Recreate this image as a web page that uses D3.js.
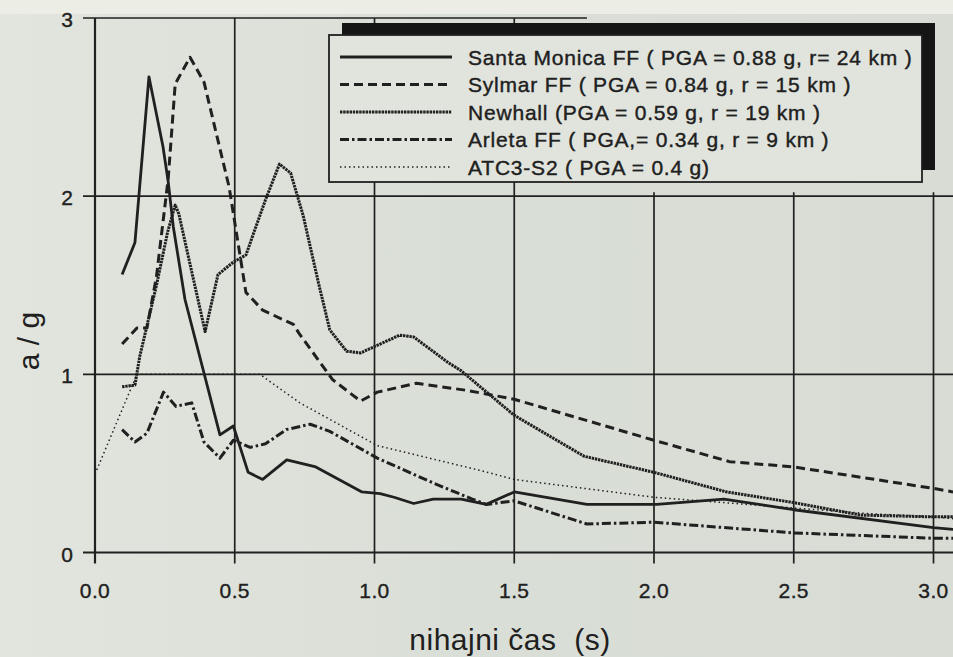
<!DOCTYPE html>
<html>
<head>
<meta charset="utf-8">
<script src="https://cdn.jsdelivr.net/npm/d3@7/dist/d3.min.js"></script>
<style>
  html, body { margin: 0; padding: 0; background: #dde1da; }
  svg { display: block; font-family: "Liberation Sans", Arial, Helvetica, sans-serif; }
</style>
</head>
<body>
<div id="chart"></div>
<script>
// Chart data: [period (s), a/g]
var xTicks = [0.0, 0.5, 1.0, 1.5, 2.0, 2.5, 3.0];
var yTicks = [0, 1, 2, 3];

var santaMonica = [
  [0.097, 1.56], [0.143, 1.74], [0.193, 2.67], [0.243, 2.28], [0.262, 2.08],
  [0.28, 1.83], [0.322, 1.42], [0.447, 0.66], [0.495, 0.71], [0.548, 0.45],
  [0.6, 0.41], [0.686, 0.52], [0.79, 0.48], [0.955, 0.34], [1.02, 0.33],
  [1.07, 0.31], [1.14, 0.275], [1.21, 0.30], [1.31, 0.30], [1.4, 0.27],
  [1.5, 0.34], [1.76, 0.27], [2.01, 0.27], [2.25, 0.30], [2.5, 0.24],
  [3.0, 0.14], [3.07, 0.13]
];

var sylmar = [
  [0.097, 1.17], [0.15, 1.26], [0.186, 1.26], [0.22, 1.55], [0.262, 2.1],
  [0.287, 2.63], [0.34, 2.78], [0.39, 2.64], [0.48, 2.05], [0.54, 1.46],
  [0.6, 1.36], [0.71, 1.28], [0.73, 1.23], [0.85, 0.97], [0.95, 0.85],
  [1.01, 0.9], [1.15, 0.95], [1.33, 0.91], [1.5, 0.86], [2.0, 0.63],
  [2.27, 0.51], [2.5, 0.48], [3.0, 0.36], [3.07, 0.34]
];

var newhall = [
  [0.097, 0.93], [0.143, 0.94], [0.16, 1.1], [0.22, 1.5], [0.26, 1.8],
  [0.287, 1.95], [0.3, 1.9], [0.394, 1.24], [0.44, 1.56], [0.495, 1.63],
  [0.54, 1.67], [0.61, 1.98], [0.66, 2.18], [0.70, 2.13], [0.745, 1.89],
  [0.80, 1.51], [0.84, 1.25], [0.90, 1.13], [0.95, 1.12], [1.09, 1.22],
  [1.14, 1.21], [1.26, 1.07], [1.31, 1.02], [1.5, 0.77], [1.75, 0.54],
  [2.0, 0.45], [2.26, 0.34], [2.5, 0.28], [2.74, 0.21], [3.0, 0.2], [3.07, 0.2]
];

var arleta = [
  [0.097, 0.69], [0.143, 0.62], [0.186, 0.67], [0.245, 0.9], [0.29, 0.82],
  [0.346, 0.84], [0.39, 0.62], [0.447, 0.53], [0.495, 0.63], [0.555, 0.59],
  [0.61, 0.61], [0.685, 0.69], [0.77, 0.72], [0.84, 0.68], [1.01, 0.53],
  [1.21, 0.39], [1.35, 0.30], [1.40, 0.27], [1.5, 0.29], [1.76, 0.16],
  [2.0, 0.17], [2.5, 0.11], [3.0, 0.08], [3.07, 0.08]
];

var atc3 = [
  [0.0, 0.44], [0.15, 1.0], [0.59, 1.0], [0.733, 0.84], [1.01, 0.6],
  [1.38, 0.46], [1.5, 0.41], [2.0, 0.31], [2.25, 0.28], [2.5, 0.25],
  [2.75, 0.22], [3.0, 0.2], [3.07, 0.19]
];

var legendLabels = [
  'Santa Monica FF ( PGA = 0.88 g, r= 24 km )',
  'Sylmar FF ( PGA = 0.84 g, r = 15 km )',
  'Newhall (PGA = 0.59 g, r = 19 km )',
  'Arleta FF ( PGA,= 0.34 g, r = 9 km )',
  'ATC3-S2 ( PGA = 0.4 g)'
];

!(function (global) {

  global.APP = global.APP || {};

  var W = 953, H = 657,
      ink = '#202020',
      paper = '#e1e4dd';

  var x = d3.scaleLinear().domain([0, 3]).range([95, 933.5]),
      y = d3.scaleLinear().domain([0, 3]).range([552.5, 18]);

  // series drawn in legend order, line styles kept apart from the data
  var series = [
    { values: santaMonica, width: 2.8, dash: null },
    { values: sylmar, width: 3, dash: '9,5' },
    { values: newhall, width: 3, dash: '2.4,0.8' },
    { values: arleta, width: 3, dash: '9,3,2.5,3' },
    { values: atc3, width: 1.5, dash: '1.5,3' }
  ];

  var svg = d3.select('#chart')
    .append('svg')
    .attr('width', W)
    .attr('height', H);

  // scanned paper background
  var grad = svg.append('defs').append('linearGradient')
    .attr('id', 'paper')
    .attr('x1', 0).attr('y1', 0).attr('x2', 1).attr('y2', 0);
  grad.append('stop').attr('offset', '0').attr('stop-color', '#e2e5de');
  grad.append('stop').attr('offset', '0.5').attr('stop-color', '#d9ded7');
  grad.append('stop').attr('offset', '1').attr('stop-color', '#d8dcd5');

  svg.append('rect')
    .attr('width', W).attr('height', H)
    .attr('fill', 'url(#paper)');
  svg.append('rect')
    .attr('width', W).attr('height', 14)
    .attr('fill', '#eceee5');

  var grid = svg.append('g').attr('stroke', ink).attr('fill', 'none');
  var topEnd = 1.76;

  // horizontal grid lines, the top one stops short as on the original sheet
  grid.selectAll('.hgrid')
    .data(yTicks)
    .enter().append('line')
    .attr('class', 'hgrid')
    .attr('x1', x(0) - 12)
    .attr('x2', function (d) { return d === 3 ? x(topEnd) : W; })
    .attr('y1', function (d) { return y(d); })
    .attr('y2', function (d) { return y(d); })
    .attr('stroke-width', function (d) { return d === 0 ? 2.2 : 1.7; });

  grid.selectAll('.vgrid')
    .data(xTicks)
    .enter().append('line')
    .attr('class', 'vgrid')
    .attr('x1', function (d) { return x(d); })
    .attr('x2', function (d) { return x(d); })
    .attr('y1', function (d) { return d > topEnd ? y(2) - 4 : y(3); })
    .attr('y2', y(0) + 11)
    .attr('stroke-width', function (d) { return d === 0 ? 2.2 : 1.7; });

  // tick labels
  svg.append('g').selectAll('text')
    .data(yTicks)
    .enter().append('text')
    .attr('x', 73)
    .attr('y', function (d) { return y(d) + 9; })
    .attr('text-anchor', 'end')
    .attr('font-size', 21)
    .attr('fill', ink)
    .attr('stroke', ink)
    .attr('stroke-width', 0.35)
    .text(function (d) { return d; });

  svg.append('g').selectAll('text')
    .data(xTicks)
    .enter().append('text')
    .attr('x', function (d) { return x(d); })
    .attr('y', 598)
    .attr('text-anchor', 'middle')
    .attr('font-size', 21)
    .attr('letter-spacing', 0.4)
    .attr('fill', ink)
    .attr('stroke', ink)
    .attr('stroke-width', 0.35)
    .text(function (d) { return d.toFixed(1); });

  // axis titles
  svg.append('text')
    .attr('x', 510)
    .attr('y', 650)
    .attr('text-anchor', 'middle')
    .attr('font-size', 30)
    .attr('letter-spacing', 0.5)
    .attr('fill', ink)
    .attr('xml:space', 'preserve')
    .text('nihajni čas  (s)');

  svg.append('text')
    .attr('transform', 'translate(39,341) rotate(-90)')
    .attr('text-anchor', 'middle')
    .attr('font-size', 30)
    .attr('fill', ink)
    .text('a / g');

  // curves
  var line = d3.line()
    .x(function (d) { return x(d[0]); })
    .y(function (d) { return y(d[1]); });

  svg.append('g').selectAll('path')
    .data(series.slice().reverse())
    .enter().append('path')
    .attr('d', function (s) { return line(s.values); })
    .attr('fill', 'none')
    .attr('stroke', ink)
    .attr('stroke-width', function (s) { return s.width; })
    .attr('stroke-dasharray', function (s) { return s.dash; })
    .attr('stroke-linejoin', 'round');

  // legend box with its black offset shadow
  var lg = svg.append('g');
  var box = { x: 329, y: 35, w: 593, h: 147 };

  lg.append('rect')
    .attr('x', box.x + 13).attr('y', box.y - 12)
    .attr('width', box.w).attr('height', box.h)
    .attr('fill', '#151515');
  lg.append('rect')
    .attr('x', box.x).attr('y', box.y)
    .attr('width', box.w).attr('height', box.h)
    .attr('fill', paper)
    .attr('stroke', ink)
    .attr('stroke-width', 1.8);

  var rows = lg.selectAll('.row')
    .data(series)
    .enter().append('g')
    .attr('class', 'row')
    .attr('transform', function (s, i) { return 'translate(0,' + (57 + i * 27.5) + ')'; });

  rows.append('line')
    .attr('x1', 340).attr('x2', 452)
    .attr('stroke', ink)
    .attr('stroke-width', function (s) { return s.width; })
    .attr('stroke-dasharray', function (s) { return s.dash; });

  rows.append('text')
    .attr('x', 468)
    .attr('y', 7.5)
    .attr('font-size', 21)
    .attr('letter-spacing', 0.8)
    .attr('fill', ink)
    .attr('stroke', ink)
    .attr('stroke-width', 0.4)
    .text(function (s, i) { return legendLabels[i]; });

})(this);
</script>
</body>
</html>
